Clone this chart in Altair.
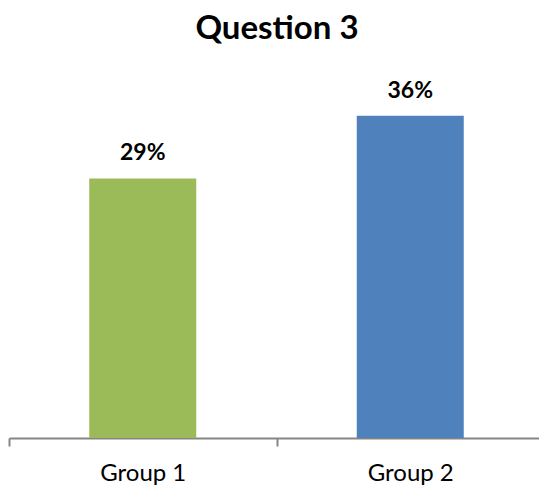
import altair as alt
import pandas as pd

# Survey results for question 3
groups = ["Group 1", "Group 2"]
shares = [0.29, 0.36]
bar_colors = ["#9BBB59", "#4F81BD"]

df = pd.DataFrame({"group": groups, "share": shares, "color": bar_colors})

font = "Lato"

base = alt.Chart(df).encode(
    x=alt.X(
        "group:N",
        sort=groups,
        scale=alt.Scale(range=[0, 535], paddingInner=0, paddingOuter=0),
        axis=alt.Axis(
            title=None,
            labelAngle=0,
            labelFont=font,
            labelFontSize=24,
            labelColor="#000000",
            labelPadding=15,
            tickBand="extent",
            tickSize=8,
            tickColor="#868686",
            tickWidth=2,
            domainColor="#868686",
            domainWidth=2,
            grid=False,
        ),
    ),
    y=alt.Y(
        "share:Q",
        scale=alt.Scale(domain=[0, 0.4], nice=False),
        axis=None,
    ),
)

bars = base.mark_bar(size=107).encode(
    color=alt.Color("color:N", scale=None, legend=None)
)

labels = base.mark_text(
    dy=-18, baseline="alphabetic", font=font, fontSize=23, fontWeight="bold", color="#000000"
).encode(text=alt.Text("share:Q", format=".0%"))

chart = (
    (bars + labels)
    .properties(
        width=530,
        height=358,
        title=alt.TitleParams(
            "Question 3",
            font=font,
            fontSize=33,
            fontWeight="bold",
            color="#000000",
            anchor="middle",
            offset=34,
            dx=3,
        ),
        autosize=alt.AutoSizeParams(type="none"),
        padding={"left": 9, "top": 80, "right": 0, "bottom": 51},
    )
    .configure(background="#ffffff")
    .configure_view(stroke="transparent", strokeWidth=0)
)

chart.save("out.html", embed_options={"renderer": "svg", "actions": False})
